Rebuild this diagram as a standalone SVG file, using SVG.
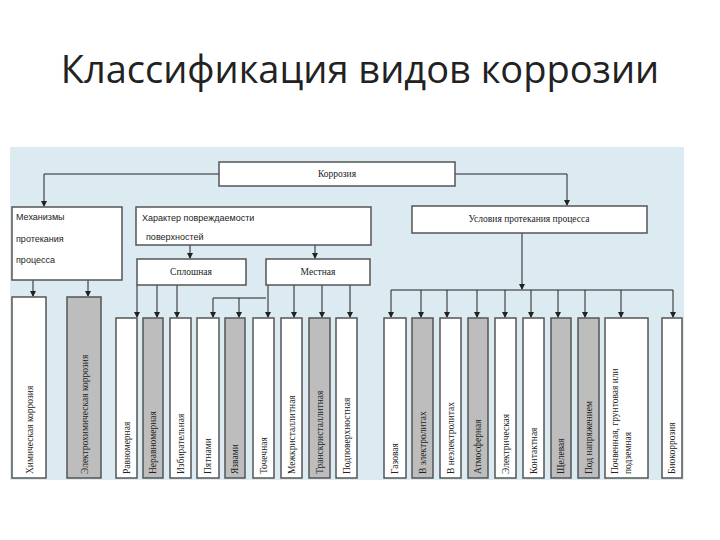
<svg xmlns="http://www.w3.org/2000/svg" width="720" height="540" viewBox="0 0 720 540">
<style>
.b{fill:#fff;stroke:#555;stroke-width:1.5}
.g{fill:#bdbdbd;stroke:#555;stroke-width:1.5}
.t{font-family:"Liberation Serif",serif;font-size:9.5px;fill:#222}
.s{font-family:"Liberation Sans",sans-serif;font-size:9px;fill:#222}
.c line,.c polyline{stroke:#222;stroke-width:1;fill:none}
</style>
<defs><marker id="a" markerWidth="6" markerHeight="6" refX="5" refY="3" orient="auto"><path d="M0,0L6,3L0,6z" fill="#222"/></marker></defs>
<rect width="720" height="540" fill="#fff"/>
<text x="360" y="83" text-anchor="middle" font-family="Open Sans,Liberation Sans,sans-serif" font-size="38" fill="#222">Классификация видов коррозии</text>
<rect x="10" y="147" width="674" height="333" fill="#dcebf1"/>
<g class="c">
<polyline points="219,174 44,174 44,206" marker-end="url(#a)"/>
<polyline points="455,174 567,174 567,205" marker-end="url(#a)"/>
<line x1="33" y1="280" x2="33" y2="296" marker-end="url(#a)"/>
<line x1="88" y1="280" x2="88" y2="296" marker-end="url(#a)"/>
<line x1="190" y1="245" x2="190" y2="258" marker-end="url(#a)"/>
<line x1="315" y1="245" x2="315" y2="258" marker-end="url(#a)"/>
<line x1="137" y1="285" x2="137" y2="317" marker-end="url(#a)"/>
<line x1="157" y1="285" x2="157" y2="317" marker-end="url(#a)"/>
<line x1="177" y1="285" x2="177" y2="317" marker-end="url(#a)"/>
<polyline points="266,298 213,298 213,317" marker-end="url(#a)"/>
<line x1="239" y1="298" x2="239" y2="317" marker-end="url(#a)"/>
<line x1="268" y1="285" x2="268" y2="317" marker-end="url(#a)"/>
<line x1="294" y1="285" x2="294" y2="317" marker-end="url(#a)"/>
<line x1="322" y1="285" x2="322" y2="317" marker-end="url(#a)"/>
<line x1="350" y1="285" x2="350" y2="317" marker-end="url(#a)"/>
<line x1="522" y1="233" x2="522" y2="289" marker-end="url(#a)"/>
<line x1="391" y1="290" x2="673" y2="290"/>
<line x1="391" y1="290" x2="391" y2="317" marker-end="url(#a)"/>
<line x1="421" y1="290" x2="421" y2="317" marker-end="url(#a)"/>
<line x1="447" y1="290" x2="447" y2="317" marker-end="url(#a)"/>
<line x1="477" y1="290" x2="477" y2="317" marker-end="url(#a)"/>
<line x1="505" y1="290" x2="505" y2="317" marker-end="url(#a)"/>
<line x1="531" y1="290" x2="531" y2="317" marker-end="url(#a)"/>
<line x1="558" y1="290" x2="558" y2="317" marker-end="url(#a)"/>
<line x1="585" y1="290" x2="585" y2="317" marker-end="url(#a)"/>
<line x1="621" y1="290" x2="621" y2="317" marker-end="url(#a)"/>
<line x1="673" y1="290" x2="673" y2="317" marker-end="url(#a)"/>
</g>
<g id="korr"><rect class="b" x="219" y="162" width="236" height="24"/><text class="t" x="337" y="177" text-anchor="middle">Коррозия</text></g>
<g id="mech"><rect class="b" x="12" y="207" width="110" height="73"/><text class="s" x="16" y="220">Механизмы</text><text class="s" x="16" y="242">протекания</text><text class="s" x="16" y="263">процесса</text></g>
<g id="char"><rect class="b" x="136" y="207" width="235" height="38"/><text class="s" x="142" y="221">Характер повреждаемости</text><text class="s" x="146" y="240">поверхностей</text></g>
<g id="spl"><rect class="b" x="137" y="259" width="109" height="26"/><text class="t" x="191" y="275" text-anchor="middle">Сплошная</text></g>
<g id="mest"><rect class="b" x="266" y="259" width="104" height="26"/><text class="t" x="318" y="275" text-anchor="middle">Местная</text></g>
<g id="usl"><rect class="b" x="412" y="206" width="235" height="27"/><text class="t" x="529" y="222" text-anchor="middle">Условия протекания процесса</text></g>
<g id="n1"><rect class="b" x="12" y="297" width="34" height="181"/><text class="t" transform="translate(33,474) rotate(-90)">Химическая коррозия</text></g>
<g id="n2"><rect class="g" x="67" y="297" width="34" height="181"/><text class="t" transform="translate(88,474) rotate(-90)">Электрохимическая коррозия</text></g>
<g id="n3"><rect class="b" x="116" y="318" width="21" height="160"/><text class="t" transform="translate(130,474) rotate(-90)">Равномерная</text></g>
<g id="n4"><rect class="g" x="143" y="318" width="20" height="160"/><text class="t" transform="translate(156,474) rotate(-90)">Неравномерная</text></g>
<g id="n5"><rect class="b" x="170" y="318" width="21" height="160"/><text class="t" transform="translate(184,474) rotate(-90)">Избирательная</text></g>
<g id="n6"><rect class="b" x="197" y="318" width="22" height="160"/><text class="t" transform="translate(211,474) rotate(-90)">Пятнами</text></g>
<g id="n7"><rect class="g" x="225" y="318" width="20" height="160"/><text class="t" transform="translate(238,474) rotate(-90)">Язвами</text></g>
<g id="n8"><rect class="b" x="253" y="318" width="21" height="160"/><text class="t" transform="translate(267,474) rotate(-90)">Точечная</text></g>
<g id="n9"><rect class="b" x="281" y="318" width="21" height="160"/><text class="t" transform="translate(295,474) rotate(-90)">Межкристаллитная</text></g>
<g id="n10"><rect class="g" x="309" y="318" width="21" height="160"/><text class="t" transform="translate(323,474) rotate(-90)">Транскристаллитная</text></g>
<g id="n11"><rect class="b" x="336" y="318" width="21" height="160"/><text class="t" transform="translate(350,474) rotate(-90)">Подповерхностная</text></g>
<g id="n12"><rect class="b" x="384" y="318" width="22" height="160"/><text class="t" transform="translate(398,474) rotate(-90)">Газовая</text></g>
<g id="n13"><rect class="g" x="412" y="318" width="21" height="160"/><text class="t" transform="translate(426,474) rotate(-90)">В электролитах</text></g>
<g id="n14"><rect class="b" x="440" y="318" width="21" height="160"/><text class="t" transform="translate(454,474) rotate(-90)">В неэлектролитах</text></g>
<g id="n15"><rect class="g" x="468" y="318" width="20" height="160"/><text class="t" transform="translate(481,474) rotate(-90)">Атмосферная</text></g>
<g id="n16"><rect class="b" x="495" y="318" width="21" height="160"/><text class="t" transform="translate(509,474) rotate(-90)">Электрическая</text></g>
<g id="n17"><rect class="b" x="523" y="318" width="21" height="160"/><text class="t" transform="translate(537,474) rotate(-90)">Контактная</text></g>
<g id="n18"><rect class="g" x="551" y="318" width="20" height="160"/><text class="t" transform="translate(564,474) rotate(-90)">Щелевая</text></g>
<g id="n19"><rect class="g" x="578" y="318" width="21" height="160"/><text class="t" transform="translate(592,474) rotate(-90)">Под напряжением</text></g>
<g id="n20"><rect class="b" x="605" y="318" width="43" height="160"/><text class="t" transform="translate(618,474) rotate(-90)">Почвенная, грунтовая или</text><text class="t" transform="translate(631,474) rotate(-90)">подземная</text></g>
<g id="n21"><rect class="b" x="662" y="318" width="20" height="160"/><text class="t" transform="translate(675,474) rotate(-90)">Биокоррозия</text></g>
</svg>
